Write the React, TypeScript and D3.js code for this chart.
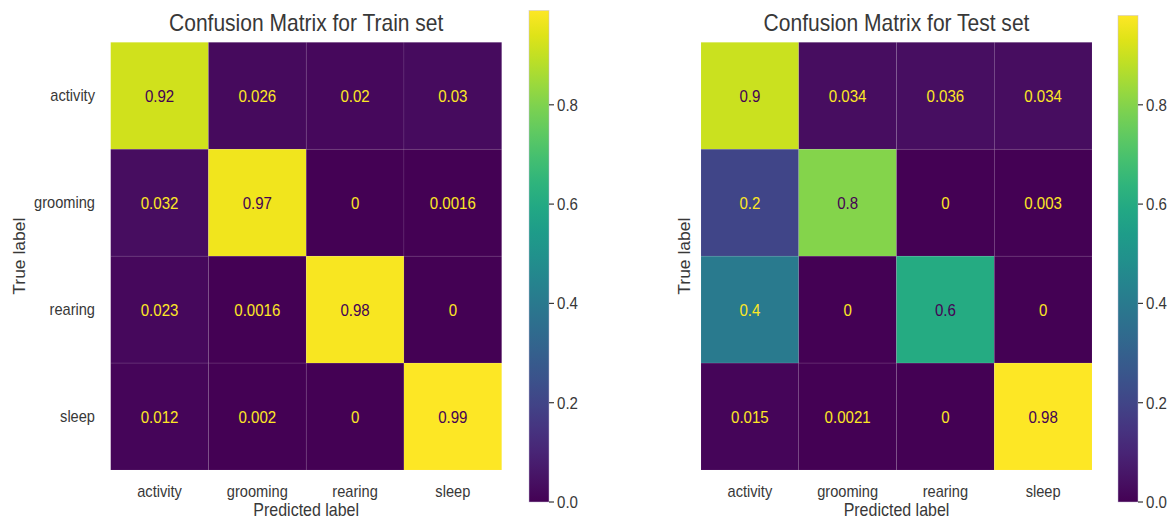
import { useEffect, useRef } from 'react';
import * as d3 from 'd3';

const classLabels = ['activity', 'grooming', 'rearing', 'sleep'];

const trainValues = [
  [0.92, 0.026, 0.02, 0.03],
  [0.032, 0.97, 0, 0.0016],
  [0.023, 0.0016, 0.98, 0],
  [0.012, 0.002, 0, 0.99],
];

const testValues = [
  [0.9, 0.034, 0.036, 0.034],
  [0.2, 0.8, 0, 0.003],
  [0.4, 0, 0.6, 0],
  [0.015, 0.0021, 0, 0.98],
];

const colorbarTicks = [0, 0.2, 0.4, 0.6, 0.8];

// the source figure was squeezed horizontally, so text is too
const SX = 0.914;
const FONT = '"Liberation Sans", Arial, sans-serif';
const TEXT = '#383838';

interface PanelSpec {
  title: string;
  values: number[][];
  left: number;
  right: number;
  cbLeft: number;
  showYTicks: boolean;
  yLabelX: number;
}

const panels: PanelSpec[] = [
  { title: 'Confusion Matrix for Train set', values: trainValues, left: 110.7, right: 501.7, cbLeft: 529, showYTicks: true, yLabelX: 25 },
  { title: 'Confusion Matrix for Test set', values: testValues, left: 701, right: 1092, cbLeft: 1118, showYTicks: false, yLabelX: 690 },
];

const TOP = 42.3;
const BOTTOM = 470;
const CB_TOP_PX = 502; // value 0 on colorbar
const CB_UNIT = 496.5; // pixels per 1.0 on colorbar
const CB_WIDTH = 20;

export default function App() {
  const svgRef = useRef<SVGSVGElement>(null);

  useEffect(() => {
    if (!svgRef.current) return;
    const svg = d3.select(svgRef.current);
    svg.selectAll('*').remove();

    const defs = svg.append('defs');
    const fmt = d3.format('.2~g');

    const addText = (
      parent: d3.Selection<SVGGElement, unknown, null, undefined>,
      x: number,
      y: number,
      txt: string,
      size: number,
      anchor: string,
      fill: string,
      rotate = 0,
    ) => {
      parent.append('text')
        .attr('transform', `translate(${x},${y}) scale(${SX},1)${rotate ? ` rotate(${rotate})` : ''}`)
        .attr('text-anchor', anchor)
        .attr('font-family', FONT)
        .attr('font-size', size)
        .attr('fill', fill)
        .text(txt);
    };

    panels.forEach((p, pi) => {
      const g = svg.append('g');
      const flat = p.values.flat();
      const vmin = d3.min(flat) as number;
      const vmax = d3.max(flat) as number;
      const color = d3.scaleSequential(d3.interpolateViridis).domain([vmin, vmax]);
      const thresh = (vmin + vmax) / 2;

      const x = d3.scaleBand<number>().domain(d3.range(classLabels.length)).range([p.left, p.right]);
      const y = d3.scaleBand<number>().domain(d3.range(classLabels.length)).range([TOP, BOTTOM]);

      // cells
      p.values.forEach((row, ri) => {
        row.forEach((v, ci) => {
          g.append('rect')
            .attr('x', x(ci) as number)
            .attr('y', y(ri) as number)
            .attr('width', x.bandwidth())
            .attr('height', y.bandwidth())
            .attr('fill', color(v))
            .attr('stroke', 'rgba(255,255,255,0.12)')
            .attr('stroke-width', 0.6);
          addText(
            g,
            (x(ci) as number) + x.bandwidth() / 2,
            (y(ri) as number) + y.bandwidth() / 2 + 6,
            fmt(v),
            16.5,
            'middle',
            v < thresh ? '#fde725' : '#440154',
          );
        });
      });

      // x tick labels
      classLabels.forEach((lab, i) => {
        addText(g, (x(i) as number) + x.bandwidth() / 2, 497, lab, 16, 'middle', TEXT);
      });
      // y tick labels
      if (p.showYTicks) {
        classLabels.forEach((lab, i) => {
          addText(g, 95, (y(i) as number) + y.bandwidth() / 2 + 5.5, lab, 16, 'end', TEXT);
        });
      }

      const cx = (p.left + p.right) / 2;
      addText(g, cx, 31, p.title, 23, 'middle', TEXT);
      addText(g, cx, 516, 'Predicted label', 17.5, 'middle', TEXT);
      addText(g, p.yLabelX, (TOP + BOTTOM) / 2, 'True label', 17.5, 'middle', TEXT, -90);

      // colorbar
      const cbScale = d3.scaleLinear().domain([0, 1]).range([CB_TOP_PX, CB_TOP_PX - CB_UNIT]);
      const gradId = `cbgrad${pi}`;
      const grad = defs.append('linearGradient')
        .attr('id', gradId)
        .attr('x1', 0).attr('y1', 1).attr('x2', 0).attr('y2', 0);
      d3.range(0, 1.0001, 0.05).forEach(t => {
        grad.append('stop')
          .attr('offset', t)
          .attr('stop-color', color(vmin + t * (vmax - vmin)));
      });
      g.append('rect')
        .attr('x', p.cbLeft)
        .attr('y', cbScale(vmax))
        .attr('width', CB_WIDTH)
        .attr('height', cbScale(vmin) - cbScale(vmax))
        .attr('fill', `url(#${gradId})`)
        .attr('stroke', 'rgba(200,190,220,0.8)')
        .attr('stroke-width', 0.6);

      colorbarTicks.forEach(t => {
        g.append('line')
          .attr('x1', p.cbLeft + CB_WIDTH)
          .attr('x2', p.cbLeft + CB_WIDTH + 5)
          .attr('y1', cbScale(t))
          .attr('y2', cbScale(t))
          .attr('stroke', TEXT)
          .attr('stroke-width', 1.2);
        addText(g, p.cbLeft + CB_WIDTH + 8, cbScale(t) + 6, d3.format('.1f')(t), 16.5, 'start', TEXT);
      });
    });
  }, []);

  return (
    <svg
      ref={svgRef}
      width={1176}
      height={521}
      style={{ position: 'absolute', left: 0, top: 0, background: '#fff', display: 'block' }}
    />
  );
}
